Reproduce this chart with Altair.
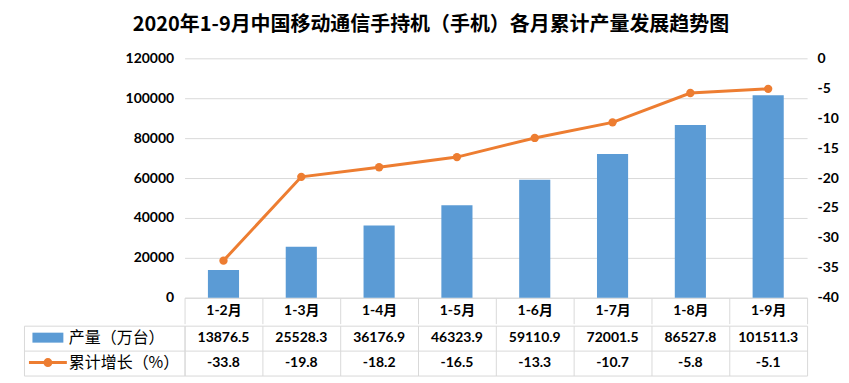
import altair as alt
import pandas as pd

# ---------------- data ----------------
categories = ["1-2月", "1-3月", "1-4月", "1-5月", "1-6月", "1-7月", "1-8月", "1-9月"]
production = [13876.5, 25528.3, 36176.9, 46323.9, 59110.9, 72001.5, 86527.8, 101511.3]
growth = [-33.8, -19.8, -18.2, -16.5, -13.3, -10.7, -5.8, -5.1]
row_names = ["产量（万台）", "累计增长（%）"]
left_ticks = [0, 20000, 40000, 60000, 80000, 100000, 120000]
right_ticks = [0, -5, -10, -15, -20, -25, -30, -35, -40]
title_text = "2020年1-9月中国移动通信手持机（手机）各月累计产量发展趋势图"

# ---------------- style ----------------
BLUE = "#5B9BD5"
ORANGE = "#ED7D31"
GRID = "#D9D9D9"
TEXT = "#000000"
NUM_FONT = "Lato, Noto Sans CJK SC"
CJK_FONT = "Noto Sans CJK SC"

RECT_PATH = "M-3.1,-1H3.1V1H-3.1Z"
LINE_PATH = ("M-3.8,0H3.8"
             "M-0.3,0A0.3,0.3,0,1,0,0.3,0A0.3,0.3,0,1,0,-0.3,0"
             "M-0.6,0A0.6,0.6,0,1,0,0.6,0A0.6,0.6,0,1,0,-0.6,0")

df = pd.DataFrame({"cat": categories, "prod": production, "growth": growth})
table = pd.DataFrame({
    "cat": categories * 2,
    "row": [row_names[0]] * len(categories) + [row_names[1]] * len(categories),
    "txt": [f"{v:.1f}" for v in production] + [f"{v:.1f}" for v in growth],
})
legend_src = pd.DataFrame({"row": row_names, "s": row_names})

W = 624

x_top = alt.X(
    "cat:N", sort=categories,
    scale=alt.Scale(domain=categories, paddingInner=0, paddingOuter=0),
    axis=alt.Axis(title=None, labelAngle=0, tickBand="extent", tickSize=26,
                  tickColor=GRID, domainColor=GRID, labelPadding=-13,
                  labelBaseline="middle", labelFont=NUM_FONT, labelFontSize=14,
                  labelFontWeight="bold", labelColor=TEXT),
)

bars = alt.Chart(df).mark_bar(color=BLUE, width={"band": 0.4}).encode(
    x=x_top,
    y=alt.Y("prod:Q", scale=alt.Scale(domain=[0, 120000], nice=False),
            axis=alt.Axis(title=None, values=left_ticks, grid=True, gridColor=GRID,
                          domain=False, ticks=False, labelPadding=11,
                          labelExpr="toString(datum.value)",
                          labelFont=NUM_FONT, labelFontSize=14, labelFontWeight="bold",
                          labelColor=TEXT)),
)

line = alt.Chart(df).mark_line(
    color=ORANGE, strokeWidth=3,
    point=alt.OverlayMarkDef(filled=True, size=70, color=ORANGE, opacity=1),
).encode(
    x=x_top,
    y=alt.Y("growth:Q", scale=alt.Scale(domain=[-40, 0], nice=False),
            axis=alt.Axis(title=None, orient="right", values=right_ticks, grid=False,
                          domain=False, ticks=False, labelPadding=10,
                          labelExpr="toString(datum.value)",
                          labelFont=NUM_FONT, labelFontSize=14, labelFontWeight="bold",
                          labelColor=TEXT)),
)

top = alt.layer(bars, line).resolve_scale(y="independent").properties(width=W, height=240)

text_layer = alt.Chart(table).mark_text(
    font=NUM_FONT, fontSize=14, fontWeight="bold", color=TEXT
).encode(
    x=alt.X("cat:N", sort=categories,
            scale=alt.Scale(domain=categories, paddingInner=0, paddingOuter=0),
            axis=alt.Axis(title=None, labels=False, ticks=False, domain=False,
                          grid=True, gridColor=GRID, tickBand="extent")),
    y=alt.Y("row:N", sort=row_names,
            scale=alt.Scale(domain=row_names, paddingInner=0, paddingOuter=0),
            axis=alt.Axis(title=None, labels=False, ticks=True, tickSize=161,
                          tickColor=GRID, tickBand="extent", grid=True, gridColor=GRID,
                          domain=True, domainColor=GRID)),
    text="txt:N",
)

b1 = alt.Chart(legend_src).transform_filter("false").mark_point(filled=True, opacity=1).encode(
    y=alt.Y("row:N", sort=row_names,
            scale=alt.Scale(domain=row_names, paddingInner=0, paddingOuter=0),
            axis=alt.Axis(title=None, orient="left", offset=161, labels=False,
                          ticks=False, grid=False, domain=True, domainColor=GRID)),
    color=alt.Color("s:N", scale=alt.Scale(domain=[row_names[0]], range=[BLUE]),
                    legend=alt.Legend(title=None, orient="none", legendX=-145, legendY=4,
                                      symbolType=RECT_PATH, symbolSize=100,
                                      symbolStrokeWidth=0, symbolOpacity=1,
                                      labelFont=CJK_FONT,
                                      labelFontSize=16, labelColor=TEXT,
                                      labelOffset=13, padding=0)),
)

b2 = alt.Chart(legend_src).transform_filter("false").mark_point(
    filled=False, strokeWidth=3, opacity=1
).encode(
    stroke=alt.Stroke("s:N", scale=alt.Scale(domain=[row_names[1]], range=[ORANGE]),
                      legend=alt.Legend(title=None, orient="none", legendX=-145, legendY=29,
                                        symbolType=LINE_PATH, symbolSize=100,
                                        symbolStrokeWidth=3, symbolOpacity=1,
                                        labelFont=CJK_FONT,
                                        labelFontSize=16, labelColor=TEXT,
                                        labelOffset=13, padding=0)),
)

bottom = alt.layer(text_layer, b1, b2).resolve_scale(y="independent").properties(width=W, height=50)

chart = alt.vconcat(top, bottom, spacing=0).resolve_scale(
    color="independent", stroke="independent"
).resolve_legend(
    color="independent", stroke="independent"
).properties(
    title=alt.TitleParams(title_text, font=CJK_FONT, fontSize=20, fontWeight="bold",
                          anchor="middle", offset=16, color=TEXT),
    padding={"left": 15, "top": 6, "right": 2, "bottom": 0},
).configure_view(stroke="transparent")

chart.save("out.html", embed_options={"renderer": "svg", "actions": False})
